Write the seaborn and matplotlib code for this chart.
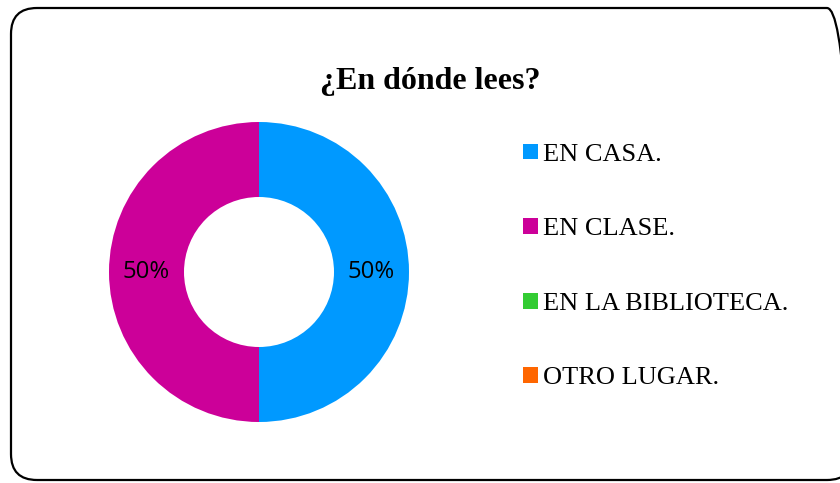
import numpy as np
import matplotlib
matplotlib.use("Agg")
import matplotlib.pyplot as plt
import seaborn as sns
from matplotlib.patches import Patch, FancyBboxPatch
from matplotlib.transforms import IdentityTransform

# datos
categorias = ["EN CASA.", "EN CLASE.", "EN LA BIBLIOTECA.", "OTRO LUGAR."]
valores = [50, 50, 0, 0]
colores = ["#0099FF", "#CC0099", "#33CC33", "#FF6600"]
titulo = "¿En dónde lees?"

sns.set_theme(style="white")
plt.rcParams['font.family'] = ['Liberation Serif', 'DejaVu Serif']
plt.rcParams['text.color'] = 'black'

fig = plt.figure(figsize=(8.4, 4.83), dpi=100, facecolor="white")

# marco redondeado (coordenadas en pixeles)
marco = FancyBboxPatch((11, 3), 842, 472, boxstyle="round,pad=0,rounding_size=26",
                       transform=IdentityTransform(), fill=False, edgecolor="black",
                       linewidth=1.6, zorder=0)
fig.patches.append(marco)

# dona
ax = fig.add_axes([109/840, 61/483, 300/840, 300/483])
wedges, textos, autotextos = ax.pie(
    valores, colors=colores, startangle=90, counterclock=False,
    wedgeprops={"width": 0.5, "linewidth": 0},
    autopct=lambda p: f"{p:.0f}%" if p > 0 else "", pctdistance=0.75)
for t in autotextos:
    t.set_fontfamily("Open Sans")
    t.set_fontsize(17.2)
    t.set_color("black")
ax.set_xlim(-1, 1)
ax.set_ylim(-1, 1)
ax.set_aspect("equal")
ax.axis("off")

fig.text(0.512, 1 - 81/483, titulo, ha="center", va="center",
         fontsize=23, fontweight="bold", color="black")

handles = [Patch(facecolor=c, edgecolor="none") for c in colores]
leg = fig.legend(handles, categorias, loc="center left",
                 bbox_to_anchor=(523/840, 1 - 266.5/483), frameon=False,
                 fontsize=19, handlelength=0.55, handleheight=0.55,
                 handletextpad=0.2, labelspacing=1.98, borderpad=0, borderaxespad=0)
for t in leg.get_texts():
    t.set_color("black")

fig.savefig("out.png", dpi=100, facecolor="white")
